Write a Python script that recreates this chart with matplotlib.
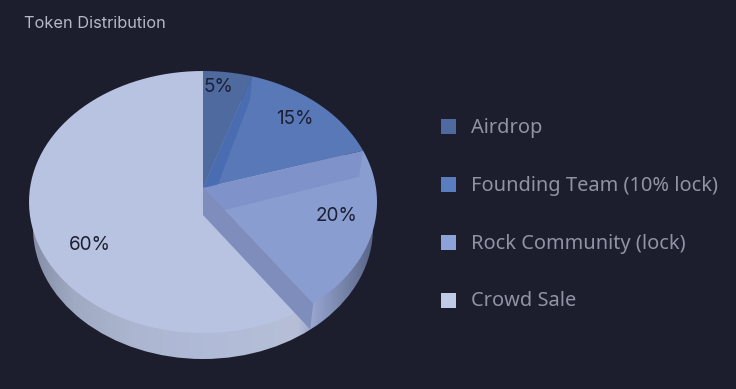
import numpy as np
import matplotlib
matplotlib.use('Agg')
import matplotlib.pyplot as plt
from matplotlib.colors import LinearSegmentedColormap
from matplotlib.patches import Ellipse, Polygon, Rectangle

title = 'Token Distribution'
labels = ['Airdrop', 'Founding Team (10% lock)', 'Rock Community (lock)', 'Crowd Sale']
shares = [5, 15, 20, 60]
colors = ['#4f6a9f', '#5878b8', '#8a9dd0', '#b7c3e0']
legend_colors = ['#4f6a9f', '#5a7dc0', '#8ca2d8', '#c0cbe6']

bg = '#1c1e2e'
cx, cy, rx, ry = 203, 202, 174, 131   # 楕円の中心と半径(ピクセル)
depth = 26
side_rx = 170
warp = 0.91                           # 遠近による角度の歪み
apex = (203, 188)
low_apex = (203, 215)


# 割合(0-100の累積)から楕円の周上の点へ
def rim(pct):
    t = np.radians(np.asarray(pct, dtype=float) * 3.6)
    t2 = 2 * np.arctan2(warp * np.sin(t / 2), np.cos(t / 2))
    return np.column_stack([cx + rx * np.sin(t2), cy - ry * np.cos(t2)])


def wedge(start, end, centre):
    arc = rim(np.linspace(start, end, 80))
    return np.vstack([[centre], arc])


fig = plt.figure(figsize=(7.36, 3.89), dpi=100, facecolor=bg)
ax = fig.add_axes([0, 0, 1, 1])
ax.set_facecolor(bg)

# 側面のグラデーション
side_cmap = LinearSegmentedColormap.from_list('side', [
    (0.0, '#858fa7'), (0.12, '#a0aac2'), (0.3, '#acb6d0'), (0.5, '#b0bbd8'), (0.78, '#b6bfd6'),
    (0.83, '#94a2cc'), (1.0, '#5a6688')])
side = Ellipse((cx, cy + depth), 2 * side_rx, 2 * ry, transform=ax.transData, fc='none', ec='none')
ax.add_patch(side)
grad = ax.imshow(np.linspace(0, 1, 256)[None, :], cmap=side_cmap, aspect='auto',
                 extent=[cx - side_rx, cx + side_rx, cy + depth + ry, cy + depth - ry], zorder=1)
grad.set_clip_path(side)

cum = np.concatenate([[0], np.cumsum(shares)])

# 60%
ax.add_patch(Polygon(wedge(cum[3], cum[4], low_apex), fc=colors[3], ec='none', zorder=2))
# 5% と 15%
ax.add_patch(Polygon(wedge(cum[0], cum[1], apex), fc=colors[0], ec='none', zorder=3))
ax.add_patch(Polygon(wedge(cum[1], cum[2], apex), fc=colors[1], ec='none', zorder=3))
p5 = rim([cum[1]])[0]
ax.add_patch(Polygon([apex, (apex[0] + 14, apex[1] - 1), (p5[0] - 2, p5[1] + 23), p5],
                     fc='#4a6cb0', ec='none', zorder=4))

# 20%: 上の帯、手前の壁、上面
p15 = rim([cum[2]])[0]
p20 = rim([cum[3]])[0]
inner = (225, 210)
ax.add_patch(Polygon(wedge(cum[2], cum[3], inner), fc=colors[2], ec='none', zorder=4))
ax.add_patch(Polygon([apex, p15, (p15[0] - 4, p15[1] + 26), inner, low_apex],
                     fc='#7f92c9', ec='none', zorder=5))
ax.add_patch(Polygon([low_apex, apex, inner, p20, (p20[0] - 3, p20[1] + depth)],
                     fc='#7f8dbd', ec='none', zorder=5))

# パーセント表示
label_pos = [(218, 87), (295, 119), (337, 216), (90, 245)]
for s, (x, y) in zip(shares, label_pos):
    ax.text(x, y, f'{s}%', ha='center', va='center', fontsize=13.6,
            family='Inter', color='#1c2032', zorder=6)

# 凡例
for i, (name, c) in enumerate(zip(labels, legend_colors)):
    y = 126 + i * 58
    ax.add_patch(Rectangle((441, y - 7.5), 15, 15, fc=c, ec='none'))
    ax.text(471, y + 1.5, name, ha='left', va='center', fontsize=14.4,
            family='Noto Sans', color='#8f93a3')

ax.text(24, 23, title, ha='left', va='center', fontsize=11.8,
        family='Inter', color='#b4b8c8')

ax.set_xlim(0, 736)
ax.set_ylim(389, 0)
ax.axis('off')
fig.savefig('out.png', dpi=100, facecolor=bg)
